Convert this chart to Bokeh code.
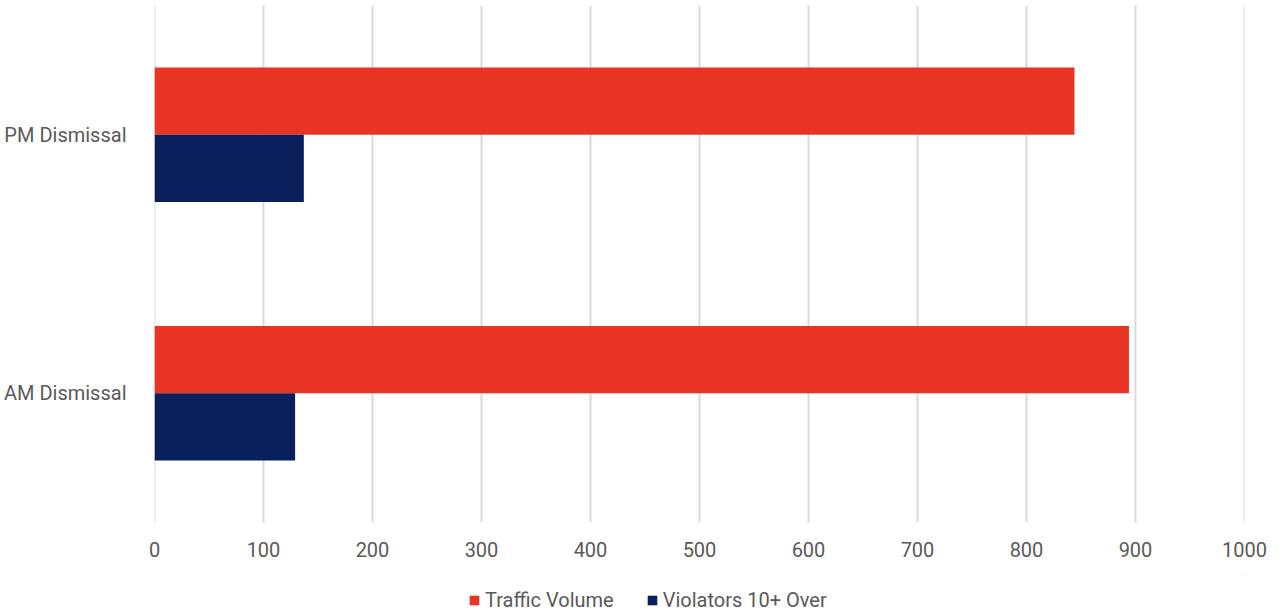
from bokeh.plotting import figure
from bokeh.models import FactorRange, ColumnDataSource, FixedTicker, Legend, LegendItem, Span, Range1d
from bokeh.layouts import column
from bokeh.transform import dodge
from bokeh.embed import file_html
from bokeh.resources import INLINE

categories = ["AM Dismissal", "PM Dismissal"]
traffic_volume = [894, 844]
violators = [129, 137]
x_ticks = [0, 100, 200, 300, 400, 500, 600, 700, 800, 900, 1000]
series_names = ["Traffic Volume", "Violators 10+ Over"]
colors = ["#E93424", "#0A1F5B"]
TEXT = "#595959"

src = ColumnDataSource(dict(cat=categories, tv=traffic_volume, vi=violators))

p = figure(frame_width=1090, frame_height=517, y_range=FactorRange(*categories),
           x_range=(x_ticks[0], x_ticks[-1]),
           output_backend="svg", toolbar_location=None,
           min_border_left=154, min_border_right=40, min_border_top=5, min_border_bottom=53)

# boundary gridlines (grid skips range ends)
for t in (x_ticks[0], x_ticks[-1]):
    p.add_layout(Span(location=t, dimension="height", line_color="#D9D9D9",
                      line_width=2, level="underlay"))

r1 = p.hbar(y=dodge("cat", 0.13, range=p.y_range), right="tv", left=0, height=0.26,
            source=src, color=colors[0], line_color=None)
r2 = p.hbar(y=dodge("cat", -0.13, range=p.y_range), right="vi", left=0, height=0.26,
            source=src, color=colors[1], line_color=None)

p.outline_line_color = None
p.background_fill_color = "white"
p.border_fill_color = "white"

p.xaxis.ticker = FixedTicker(ticks=x_ticks)
p.xaxis.axis_line_color = None
p.xaxis.major_tick_line_color = None
p.xaxis.minor_tick_line_color = None
p.xaxis.major_label_standoff = 13
p.xaxis.major_label_text_font = "Roboto"
p.xaxis.major_label_text_font_size = "20px"
p.xaxis.major_label_text_color = TEXT

p.yaxis.axis_line_color = None
p.yaxis.major_tick_line_color = None
p.yaxis.minor_tick_line_color = None
p.yaxis.major_label_standoff = 22
p.yaxis.major_label_text_font = "Roboto"
p.yaxis.major_label_text_font_size = "20px"
p.yaxis.major_label_text_color = TEXT

p.xgrid.grid_line_color = "#D9D9D9"
p.xgrid.grid_line_width = 2
p.ygrid.grid_line_color = None

# legend strip below the chart (swatch bars sit fully outside its visible range)
p2 = figure(width=1284, height=38, x_range=Range1d(0, 1), y_range=Range1d(0, 1),
            output_backend="svg", toolbar_location=None,
            min_border=0, x_axis_type=None, y_axis_type=None)
p2.outline_line_color = None
p2.xgrid.visible = False
p2.ygrid.visible = False
offscreen = ColumnDataSource(dict(y=[10], left=[5], right=[6]))
l1 = p2.hbar(y="y", right="right", left="left", height=0.5, source=offscreen,
             color=colors[0], line_color=None)
l2 = p2.hbar(y="y", right="right", left="left", height=0.5, source=offscreen,
             color=colors[1], line_color=None)

legend = Legend(items=[LegendItem(label=series_names[0], renderers=[l1]),
                       LegendItem(label=series_names[1], renderers=[l2])],
                orientation="horizontal", location=(314, 1),
                glyph_width=12, glyph_height=12, label_standoff=5, spacing=32,
                label_text_font="Roboto", label_text_font_size="20px",
                label_text_color=TEXT, border_line_color=None,
                background_fill_alpha=0, padding=0, margin=0)
p2.add_layout(legend)

layout = column(p, p2, spacing=0)
open("out.html", "w").write(file_html(layout, INLINE))
